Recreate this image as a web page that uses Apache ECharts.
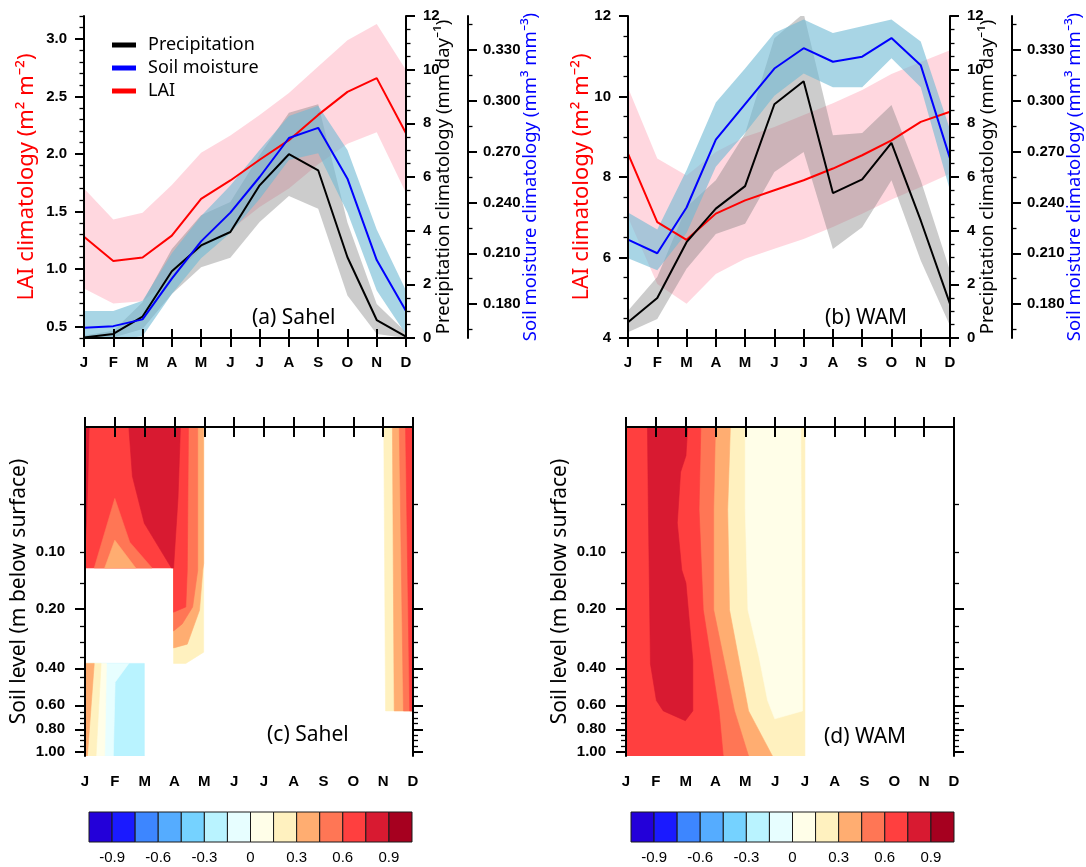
<!DOCTYPE html>
<html><head><meta charset="utf-8">
<script src="https://cdn.jsdelivr.net/npm/echarts@6/dist/echarts.min.js"></script>
<style>html,body{margin:0;padding:0;background:#fff}#c{width:1086px;height:867px}</style>
</head><body><div id="c"></div>
<script>
// ---------------- data ----------------
const months = ['J','F','M','A','M','J','J','A','S','O','N','D'];

// (a) Sahel climatologies (line = mean, Hi/Lo = shaded spread)
const sahelLAI    = [1.28,1.07,1.10,1.29,1.61,1.77,1.95,2.12,2.34,2.54,2.66,2.18];
const sahelLAIHi  = [1.70,1.43,1.49,1.73,2.01,2.16,2.34,2.53,2.76,2.99,3.13,2.73];
const sahelLAILo  = [0.83,0.70,0.72,0.92,1.18,1.34,1.54,1.70,1.91,2.09,2.19,1.66];
const sahelPr     = [0.02,0.15,0.80,2.49,3.45,3.95,5.69,6.85,6.25,3.01,0.67,0.05];
const sahelPrHi   = [0.09,0.27,1.33,3.32,4.57,5.07,6.81,8.39,8.71,4.30,1.27,0.21];
const sahelPrLo   = [0.00,0.02,0.34,1.64,2.64,2.99,4.32,5.29,4.82,1.58,0.15,0.00];
const sahelSM     = [0.166,0.167,0.171,0.195,0.217,0.234,0.255,0.278,0.284,0.254,0.206,0.176];
const sahelSMHi   = [0.176,0.176,0.182,0.210,0.232,0.250,0.271,0.291,0.297,0.271,0.224,0.188];
const sahelSMLo   = [0.158,0.159,0.161,0.186,0.207,0.222,0.242,0.265,0.269,0.234,0.188,0.162];

// (b) WAM climatologies
const wamLAI    = [8.58,6.88,6.44,7.09,7.42,7.67,7.92,8.21,8.54,8.91,9.37,9.62];
const wamLAIHi  = [10.22,8.46,8.04,8.62,9.00,9.24,9.54,9.83,10.16,10.56,10.86,11.15];
const wamLAILo  = [7.00,5.34,4.85,5.59,5.97,6.22,6.46,6.76,7.09,7.44,7.75,8.08];
const wamPr     = [0.59,1.49,3.57,4.82,5.66,8.71,9.57,5.40,5.91,7.27,4.38,1.27];
const wamPrHi   = [1.02,2.27,4.88,5.88,7.62,11.17,12.10,7.56,7.64,8.68,5.88,2.51];
const wamPrLo   = [0.21,0.71,2.58,3.88,4.26,6.19,6.93,3.32,4.13,5.88,2.89,0.46];
const wamSM     = [0.218,0.210,0.237,0.277,0.298,0.319,0.331,0.323,0.326,0.337,0.321,0.266];
const wamSMHi   = [0.234,0.224,0.259,0.299,0.319,0.340,0.348,0.340,0.344,0.348,0.335,0.283];
const wamSMLo   = [0.207,0.200,0.222,0.261,0.281,0.303,0.316,0.308,0.308,0.325,0.308,0.247];

// tick labels
const laiTicksSahel = [0.5,1.0,1.5,2.0,2.5,3.0];
const laiTicksWAM   = [4,6,8,10,12];
const precipTicks   = [0,2,4,6,8,10,12];
const soilTicks     = [0.18,0.21,0.24,0.27,0.30,0.33];

// soil layer node depths (m) – the depth axis is linear in layer index
const soilNodeDepth   = [0.0071,0.0279,0.0623,0.1189,0.2122,0.3661,0.6198,1.0380];
const depthTickLabels = [0.10,0.20,0.40,0.60,0.80,1.00];
const depthMajorTicks = [0.20,0.40,0.60,0.80,1.00];
const depthMinorTicks = [0.05,0.10,0.15,0.25,0.30,0.35,0.45,0.50,0.55,0.65,0.70,0.75,0.85,0.90,0.95];

// correlation colour classes
const corrLevels   = [-0.9,-0.75,-0.6,-0.45,-0.3,-0.15,0,0.15,0.3,0.45,0.6,0.75,0.9];
const corrColors   = ['#2300d9','#1a1aff','#3d86ff','#55acff','#75d2ff','#b9f3ff','#e7feff',
                      '#fffee8','#fff1bf','#ffad71','#ff7655','#ff3f3f','#d81a31','#a6001f'];
const colorbarLabels = [-0.9,-0.6,-0.3,0,0.3,0.6,0.9];

// filled-contour regions: c = colour class, p = [month, soil-layer position] vertices (painted in order)
const sahelCorrRegions = [
  {c:8,  p:[[2.97,0],[3.98,0],[3.98,4.79],[3.38,5.03],[2.97,5.03]]},
  {c:9,  p:[[2.97,0],[3.98,0],[3.98,2.9],[3.95,3.05],[3.84,3.9],[3.43,4.62],[2.97,4.7]]},
  {c:10, p:[[2.97,0],[3.78,0],[3.78,3.05],[3.61,3.83],[3.26,4.19],[2.97,4.34]]},
  {c:11, p:[[2.97,0],[3.47,0],[3.43,3.05],[3.38,3.83],[2.97,3.94]]},
  {c:11, p:[[0,0],[3.0,0],[3.0,3.0],[0,3.0]]},
  {c:10, p:[[0.31,3.0],[1.0,1.52],[1.5,2.45],[2.25,3.0]]},
  {c:9,  p:[[0.66,3.0],[1.0,2.41],[1.7,3.0]]},
  {c:12, p:[[1.47,0],[3.2,0],[3.12,1.5],[2.97,3.0],[2.9,3.0],[1.99,2.05],[1.59,1.05]]},
  {c:12, p:[[0,0],[0.14,0],[0.1,1.0],[0.05,2.0],[0,2.6]]},
  {c:5,  p:[[0,5.03],[1.99,5.03],[1.99,7],[0,7]]},
  {c:6,  p:[[0,5.03],[1.47,5.03],[1.01,5.43],[0.95,7],[0,7]]},
  {c:7,  p:[[0,5.03],[0.72,5.03],[0.66,7],[0,7]]},
  {c:8,  p:[[0,5.03],[0.54,5.03],[0.37,7],[0,7]]},
  {c:9,  p:[[0,5.03],[0.31,5.03],[0.08,7],[0,7]]},
  {c:8,  p:[[10.02,0],[11,0],[11,6.04],[10.08,6.04]]},
  {c:9,  p:[[10.31,0],[11,0],[11,6.04],[10.37,6.04]]},
  {c:10, p:[[10.54,0],[11,0],[11,6.04],[10.68,6.04]]},
  {c:11, p:[[10.75,0],[11,0],[11,6.04],[10.89,6.04]]}
];
const wamCorrRegions = [
  {c:8,  p:[[0,0],[6,0],[6,7],[0,7]]},
  {c:7,  p:[[4.0,0],[5.86,0],[5.92,6.04],[4.99,6.21],[4.75,5.82],[4.46,4.89],[4.09,3.89],[4.0,1.75]]},
  {c:9,  p:[[0,0],[3.5,0],[3.41,1.75],[3.47,3.89],[4.11,6.04],[4.91,7],[0,7]]},
  {c:10, p:[[0,0],[3.0,0],[2.94,1.75],[2.94,3.89],[3.64,6.04],[4.11,7],[0,7]]},
  {c:11, p:[[0,0],[2.51,0],[2.45,1.75],[2.59,3.89],[3.12,6.04],[3.26,7],[0,7]]},
  {c:12, p:[[0.72,0],[2.07,0],[2.01,0.61],[1.83,0.96],[1.72,2.04],[1.87,3.04],[2.01,3.32],[2.24,4.96],[2.24,6.04],[1.99,6.25],[1.25,6.04],[1.02,5.82],[0.82,5.04],[0.75,1.75]]}
];

// ---------------- helpers ----------------
const FT = 'Liberation Sans';
const FN = 'Noto Sans';
function depthToLayer(d){
  const n = soilNodeDepth.length;
  for (let i=0;i<n-1;i++){
    const a=soilNodeDepth[i], b=soilNodeDepth[i+1];
    if (d<=b || i===n-2) return i+(d-a)/(b-a);
  }
}
function range(a,b,step,skipEvery){ // tick positions
  const out=[]; const n=Math.round((b-a)/step);
  for(let k=0;k<=n;k++){ if(skipEvery && k%skipEvery===0) continue; out.push(+(a+k*step).toFixed(6)); }
  return out;
}

const xAxes=[], yAxes=[], series=[];
function addX(o){xAxes.push(Object.assign({z:10,splitLine:{show:false}},o));return xAxes.length-1;}
function addY(o){yAxes.push(Object.assign({z:10,splitLine:{show:false},nameMoveOverlap:false},o));return yAxes.length-1;}
const axLine = {show:true,lineStyle:{color:'#000',width:2}};
const noLine = {show:false};
const majT = (vals,len)=>({show:true,length:len||9,customValues:vals,lineStyle:{color:'#000',width:2}});
const minT = (vals,len)=>({show:true,length:len||4.5,customValues:vals,lineStyle:{color:'#000',width:1.3}});
const TL = {color:'#000',fontSize:15,fontWeight:'bold',fontFamily:FT};
const lab = (vals,fmt,margin)=>Object.assign({show:true,customValues:vals,formatter:fmt,margin:margin},TL);
const noLab = {show:false};

function bandSeries(xi,yi,lo,hi,color){
  return {type:'custom',xAxisIndex:xi,yAxisIndex:yi,clip:true,silent:true,z:2,
    data: lo.map((v,i)=>[i,v,hi[i]]), encode:{x:0,y:[1,2]},
    renderItem(params,api){
      if(params.dataIndex!==0) return null;
      const top=[],bot=[];
      for(let i=0;i<lo.length;i++){
        top.push(api.coord([i,api.value(2,i)]));
        bot.push(api.coord([i,api.value(1,i)]));
      }
      return {type:'polygon',shape:{points:top.concat(bot.reverse())},style:{fill:color}};
    }};
}
function lineSeries(name,xi,yi,data,color){
  return {type:'line',name,xAxisIndex:xi,yAxisIndex:yi,data,symbol:'none',silent:true,z:2,
    lineStyle:{color,width:2},itemStyle:{color}};
}

function linePanel(g,cfg){
  const xt = {show:true,interval:0,length:9,lineStyle:{color:'#000',width:2}};
  const xb = addX({type:'category',gridIndex:g,data:months,boundaryGap:false,position:'bottom',axisLine:axLine,axisTick:xt,
    axisLabel:Object.assign({interval:0,margin:17},TL)});
  addX({type:'category',gridIndex:g,data:months,boundaryGap:false,position:'top',axisLine:axLine,axisTick:xt,axisLabel:noLab});
  const yl = addY({type:'value',gridIndex:g,position:'left',min:cfg.laiMin,max:cfg.laiMax,axisLine:axLine,
    axisTick:majT(cfg.laiTicks),axisLabel:lab(cfg.laiTicks,cfg.laiFmt,17),
    name:'LAI climatology (m² m⁻²)',nameLocation:'middle',nameGap:cfg.laiGap,nameRotate:90,
    nameTextStyle:{color:'#ff0000',fontSize:22,fontFamily:FN}});
  addY({type:'value',gridIndex:g,position:'left',min:cfg.laiMin,max:cfg.laiMax,axisLine:noLine,axisTick:minT(cfg.laiMinor),axisLabel:noLab});
  const yp = addY({type:'value',gridIndex:g,position:'right',min:0,max:12,axisLine:axLine,
    axisTick:majT(precipTicks),axisLabel:lab(precipTicks,v=>String(v),17),
    name:'Precipitation climatology (mm day⁻¹)',nameLocation:'middle',nameGap:28,nameRotate:90,
    nameTextStyle:{color:'#000',fontSize:18.5,fontFamily:FN}});
  addY({type:'value',gridIndex:g,position:'right',min:0,max:12,axisLine:noLine,axisTick:minT(range(0,12,0.5,4)),axisLabel:noLab});
  const ys = addY({type:'value',gridIndex:g,position:'right',offset:62,min:0.16,max:0.35,axisLine:axLine,
    axisTick:majT(soilTicks),axisLabel:lab(soilTicks,v=>v.toFixed(3),15),
    name:'Soil moisture climatology (mm³ mm⁻³)',nameLocation:'middle',nameGap:53,nameRotate:90,
    nameTextStyle:{color:'#0000ff',fontSize:18.5,fontFamily:FN}});
  addY({type:'value',gridIndex:g,position:'right',offset:62,min:0.16,max:0.35,axisLine:noLine,axisTick:minT(range(0.165,0.345,0.03)),axisLabel:noLab});
  series.push(bandSeries(xb,yl,cfg.laiLo,cfg.laiHi,'rgba(255,160,178,0.42)'));
  series.push(lineSeries(cfg.names[2],xb,yl,cfg.lai,'#ff0000'));
  series.push(bandSeries(xb,yp,cfg.prLo,cfg.prHi,'rgba(120,120,120,0.38)'));
  series.push(lineSeries(cfg.names[0],xb,yp,cfg.pr,'#000000'));
  series.push(bandSeries(xb,ys,cfg.smLo,cfg.smHi,'rgba(110,185,212,0.6)'));
  series.push(lineSeries(cfg.names[1],xb,ys,cfg.sm,'#0000ff'));
}

function contourPanel(g,regions){
  const xt = {show:true,length:10,lineStyle:{color:'#000',width:2}};
  const xb = addX({type:'value',gridIndex:g,position:'bottom',min:0,max:11,interval:1,axisLine:axLine,axisTick:xt,
    axisLabel:Object.assign({formatter:v=>months[v],margin:18},TL)});
  addX({type:'value',gridIndex:g,position:'top',min:0,max:11,interval:1,axisLine:axLine,axisTick:xt,axisLabel:noLab});
  const majPos = depthMajorTicks.map(depthToLayer);
  const minPos = depthMinorTicks.map(depthToLayer);
  const labPos = depthTickLabels.map(depthToLayer);
  const fmt = v=>{const k=labPos.findIndex(p=>Math.abs(p-v)<1e-6);return k<0?'':depthTickLabels[k].toFixed(2);};
  const yl = addY({type:'value',gridIndex:g,position:'left',min:0,max:7,inverse:true,axisLine:axLine,
    axisTick:majT(majPos,10),axisLabel:lab(labPos,fmt,20),
    name:'Soil level (m below surface)',nameLocation:'middle',nameGap:55,nameRotate:90,
    nameTextStyle:{color:'#000',fontSize:21,fontFamily:FN}});
  addY({type:'value',gridIndex:g,position:'left',min:0,max:7,inverse:true,axisLine:noLine,axisTick:minT(minPos,5),axisLabel:noLab});
  addY({type:'value',gridIndex:g,position:'right',min:0,max:7,inverse:true,axisLine:axLine,axisTick:majT(majPos,10),axisLabel:noLab});
  addY({type:'value',gridIndex:g,position:'right',min:0,max:7,inverse:true,axisLine:noLine,axisTick:minT(minPos,5),axisLabel:noLab});
  series.push({type:'custom',xAxisIndex:xb,yAxisIndex:yl,clip:true,silent:true,z:2,
    data:regions.map((r,i)=>[i,0]),
    renderItem(params,api){
      const r=regions[params.dataIndex]; const col=corrColors[r.c];
      return {type:'polygon',shape:{points:r.p.map(pt=>api.coord(pt))},style:{fill:col,stroke:col,lineWidth:0.6}};
    }});
}

function colorbar(g){
  const edges=[-1.05].concat(corrLevels,[1.05]);
  const xi = addX({type:'value',gridIndex:g,min:-1.05,max:1.05,axisLine:noLine,axisTick:{show:false},
    axisLabel:{customValues:colorbarLabels,formatter:v=>Math.abs(v)<1e-9?'0':v.toFixed(1),margin:8,color:'#000',fontSize:15,fontFamily:FT}});
  const yi = addY({type:'value',gridIndex:g,min:0,max:1,show:false});
  series.push({type:'custom',xAxisIndex:xi,yAxisIndex:yi,silent:true,z:2,
    data:corrColors.map((c,i)=>[edges[i],edges[i+1]]),
    renderItem(params,api){
      const a=api.coord([api.value(0),1]), b=api.coord([api.value(1),0]);
      return {type:'rect',shape:{x:a[0],y:a[1],width:b[0]-a[0],height:b[1]-a[1]},
        style:{fill:corrColors[params.dataIndex],stroke:'#1a1a1a',lineWidth:1}};
    }});
}

const laiMinorSahel = range(0.4,3.2,0.1).filter(v=>Math.abs(v*2-Math.round(v*2))>1e-6);
const laiMinorWAM = range(4,12,0.5,4);

linePanel(0,{laiMin:0.4,laiMax:3.2,laiTicks:laiTicksSahel,laiMinor:laiMinorSahel,laiFmt:v=>v.toFixed(1),laiGap:46,
  lai:sahelLAI,laiHi:sahelLAIHi,laiLo:sahelLAILo,pr:sahelPr,prHi:sahelPrHi,prLo:sahelPrLo,sm:sahelSM,smHi:sahelSMHi,smLo:sahelSMLo,
  names:['Precipitation','Soil moisture','LAI']});
linePanel(1,{laiMin:4,laiMax:12,laiTicks:laiTicksWAM,laiMinor:laiMinorWAM,laiFmt:v=>String(v),laiGap:35,
  lai:wamLAI,laiHi:wamLAIHi,laiLo:wamLAILo,pr:wamPr,prHi:wamPrHi,prLo:wamPrLo,sm:wamSM,smHi:wamSMHi,smLo:wamSMLo,
  names:['Precipitation (WAM)','Soil moisture (WAM)','LAI (WAM)']});
contourPanel(2,sahelCorrRegions);
contourPanel(3,wamCorrRegions);
colorbar(4);
colorbar(5);

const G = (l,t,w,h)=>({left:l,top:t,width:w,height:h,containLabel:false,outerBoundsMode:'none',show:false});
const option = {
  animation:false,
  backgroundColor:'#fff',
  grid:[G(84,16,322,322),G(628,16,322,322),G(85,427,328,329),G(626,427,328,329),G(89,812,323,30),G(631,812,323,30)],
  xAxis:xAxes, yAxis:yAxes, series,
  legend:{left:107,top:31,orient:'vertical',icon:'rect',itemWidth:24,itemHeight:5,itemGap:5,
    data:['Precipitation','Soil moisture','LAI'],selectedMode:false,
    textStyle:{fontSize:18,fontFamily:FN,color:'#000',padding:[0,0,0,7]}},
  graphic:[
    {type:'text',left:252,top:308,style:{text:'(a) Sahel',fontSize:21,fontFamily:FN,fill:'#000'}},
    {type:'text',left:825,top:308,style:{text:'(b) WAM',fontSize:21,fontFamily:FN,fill:'#000'}},
    {type:'text',left:267,top:725,style:{text:'(c) Sahel',fontSize:21,fontFamily:FN,fill:'#000'}},
    {type:'text',left:824,top:727,style:{text:'(d) WAM',fontSize:21,fontFamily:FN,fill:'#000'}}
  ]
};
const chart = echarts.init(document.getElementById('c'),null,{renderer:'canvas'});
chart.setOption(option);
</script>
</body></html>
